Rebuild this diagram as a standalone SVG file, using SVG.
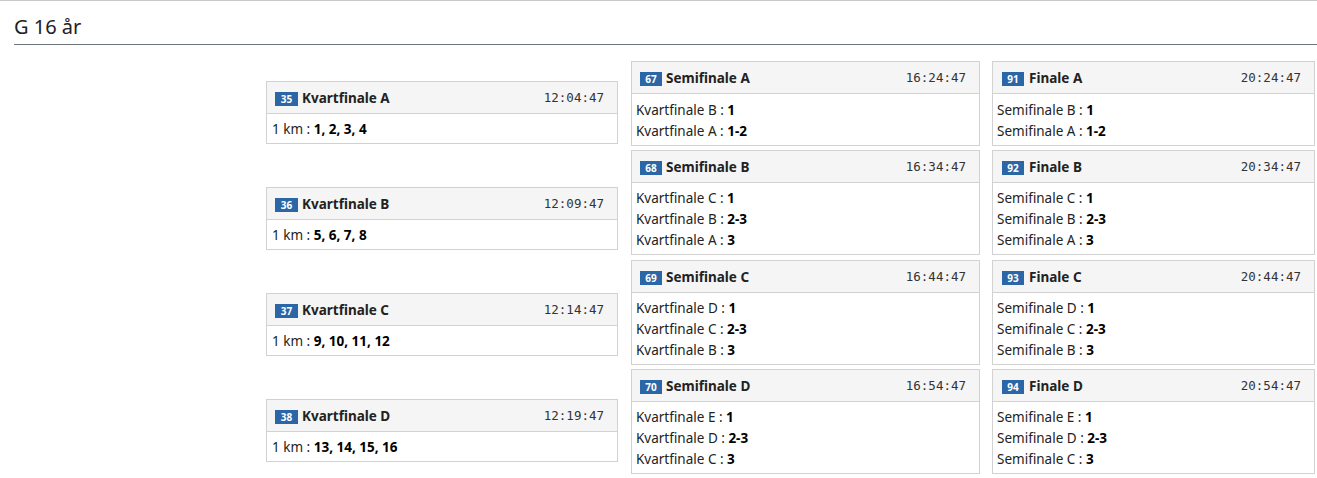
<svg xmlns="http://www.w3.org/2000/svg" width="1317" height="478" viewBox="0 0 1317 478">
<style>
.box{fill:#fff;stroke:#d2d2d2;stroke-width:1}
.hdr{fill:#f5f5f5;stroke:#d2d2d2;stroke-width:1}
.badge{fill:#2b67a6}
.bn{font-family:"Noto Sans","Open Sans",sans-serif;font-size:10px;font-weight:bold;fill:#fff;text-anchor:middle}
.tt{font-family:"Noto Sans","Open Sans",sans-serif;font-size:13.5px;font-weight:bold;fill:#222}
.tm{font-family:"DejaVu Sans Mono","Liberation Mono",monospace;font-size:12.5px;fill:#333;text-anchor:end}
.bd{font-family:"Noto Sans","Open Sans",sans-serif;font-size:13.5px;fill:#222}
.bd tspan{font-weight:bold;fill:#000}
.h{font-family:"Noto Sans","Open Sans",sans-serif;font-size:20px;fill:#222}
</style>
<rect x="0" y="0" width="1317" height="478" fill="#fff"/>
<line x1="0" y1="0.5" x2="1317" y2="0.5" stroke="#c8c8c8"/>
<text class="h" x="14" y="34">G 16 år</text>
<line x1="14" y1="44.5" x2="1317" y2="44.5" stroke="#6c757d"/>

<g id="q35">
<rect class="box" x="266.5" y="81.5" width="351" height="62"/>
<rect class="hdr" x="266.5" y="81.5" width="351" height="32"/>
<rect class="badge" x="275" y="92" width="23" height="14"/>
<text class="bn" x="286.5" y="102.5">35</text>
<text class="tt" x="302" y="102.5">Kvartfinale A</text>
<text class="tm" x="604" y="102">12:04:47</text>
<text class="bd" x="272" y="134">1 km : <tspan>1, 2, 3, 4</tspan></text>
</g>
<g id="q36">
<rect class="box" x="266.5" y="187.5" width="351" height="62"/>
<rect class="hdr" x="266.5" y="187.5" width="351" height="32"/>
<rect class="badge" x="275" y="198" width="23" height="14"/>
<text class="bn" x="286.5" y="208.5">36</text>
<text class="tt" x="302" y="208.5">Kvartfinale B</text>
<text class="tm" x="604" y="208">12:09:47</text>
<text class="bd" x="272" y="240">1 km : <tspan>5, 6, 7, 8</tspan></text>
</g>
<g id="q37">
<rect class="box" x="266.5" y="293.5" width="351" height="62"/>
<rect class="hdr" x="266.5" y="293.5" width="351" height="32"/>
<rect class="badge" x="275" y="304" width="23" height="14"/>
<text class="bn" x="286.5" y="314.5">37</text>
<text class="tt" x="302" y="314.5">Kvartfinale C</text>
<text class="tm" x="604" y="314">12:14:47</text>
<text class="bd" x="272" y="346">1 km : <tspan>9, 10, 11, 12</tspan></text>
</g>
<g id="q38">
<rect class="box" x="266.5" y="399.5" width="351" height="62"/>
<rect class="hdr" x="266.5" y="399.5" width="351" height="32"/>
<rect class="badge" x="275" y="410" width="23" height="14"/>
<text class="bn" x="286.5" y="420.5">38</text>
<text class="tt" x="302" y="420.5">Kvartfinale D</text>
<text class="tm" x="604" y="420">12:19:47</text>
<text class="bd" x="272" y="452">1 km : <tspan>13, 14, 15, 16</tspan></text>
</g>

<g id="s67">
<rect class="box" x="631.5" y="61.5" width="348" height="84"/>
<rect class="hdr" x="631.5" y="61.5" width="348" height="32"/>
<rect class="badge" x="640" y="72" width="22" height="14"/>
<text class="bn" x="651" y="82.5">67</text>
<text class="tt" x="666" y="82.5">Semifinale A</text>
<text class="tm" x="966" y="82">16:24:47</text>
<text class="bd" x="636" y="115">Kvartfinale B : <tspan>1</tspan></text>
<text class="bd" x="636" y="136">Kvartfinale A : <tspan>1-2</tspan></text>
</g>
<g id="s68">
<rect class="box" x="631.5" y="150.5" width="348" height="104"/>
<rect class="hdr" x="631.5" y="150.5" width="348" height="32"/>
<rect class="badge" x="640" y="161" width="22" height="14"/>
<text class="bn" x="651" y="171.5">68</text>
<text class="tt" x="666" y="171.5">Semifinale B</text>
<text class="tm" x="966" y="171">16:34:47</text>
<text class="bd" x="636" y="203">Kvartfinale C : <tspan>1</tspan></text>
<text class="bd" x="636" y="224">Kvartfinale B : <tspan>2-3</tspan></text>
<text class="bd" x="636" y="245">Kvartfinale A : <tspan>3</tspan></text>
</g>
<g id="s69">
<rect class="box" x="631.5" y="260.5" width="348" height="104"/>
<rect class="hdr" x="631.5" y="260.5" width="348" height="32"/>
<rect class="badge" x="640" y="271" width="22" height="14"/>
<text class="bn" x="651" y="281.5">69</text>
<text class="tt" x="666" y="281.5">Semifinale C</text>
<text class="tm" x="966" y="281">16:44:47</text>
<text class="bd" x="636" y="313">Kvartfinale D : <tspan>1</tspan></text>
<text class="bd" x="636" y="334">Kvartfinale C : <tspan>2-3</tspan></text>
<text class="bd" x="636" y="355">Kvartfinale B : <tspan>3</tspan></text>
</g>
<g id="s70">
<rect class="box" x="631.5" y="369.5" width="348" height="104"/>
<rect class="hdr" x="631.5" y="369.5" width="348" height="32"/>
<rect class="badge" x="640" y="380" width="22" height="14"/>
<text class="bn" x="651" y="390.5">70</text>
<text class="tt" x="666" y="390.5">Semifinale D</text>
<text class="tm" x="966" y="390">16:54:47</text>
<text class="bd" x="636" y="422">Kvartfinale E : <tspan>1</tspan></text>
<text class="bd" x="636" y="443">Kvartfinale D : <tspan>2-3</tspan></text>
<text class="bd" x="636" y="464">Kvartfinale C : <tspan>3</tspan></text>
</g>

<g id="f91">
<rect class="box" x="992.5" y="61.5" width="322" height="84"/>
<rect class="hdr" x="992.5" y="61.5" width="322" height="32"/>
<rect class="badge" x="1002" y="72" width="22" height="14"/>
<text class="bn" x="1013" y="82.5">91</text>
<text class="tt" x="1029" y="82.5">Finale A</text>
<text class="tm" x="1301" y="82">20:24:47</text>
<text class="bd" x="997" y="115">Semifinale B : <tspan>1</tspan></text>
<text class="bd" x="997" y="136">Semifinale A : <tspan>1-2</tspan></text>
</g>
<g id="f92">
<rect class="box" x="992.5" y="150.5" width="322" height="104"/>
<rect class="hdr" x="992.5" y="150.5" width="322" height="32"/>
<rect class="badge" x="1002" y="161" width="22" height="14"/>
<text class="bn" x="1013" y="171.5">92</text>
<text class="tt" x="1029" y="171.5">Finale B</text>
<text class="tm" x="1301" y="171">20:34:47</text>
<text class="bd" x="997" y="203">Semifinale C : <tspan>1</tspan></text>
<text class="bd" x="997" y="224">Semifinale B : <tspan>2-3</tspan></text>
<text class="bd" x="997" y="245">Semifinale A : <tspan>3</tspan></text>
</g>
<g id="f93">
<rect class="box" x="992.5" y="260.5" width="322" height="104"/>
<rect class="hdr" x="992.5" y="260.5" width="322" height="32"/>
<rect class="badge" x="1002" y="271" width="22" height="14"/>
<text class="bn" x="1013" y="281.5">93</text>
<text class="tt" x="1029" y="281.5">Finale C</text>
<text class="tm" x="1301" y="281">20:44:47</text>
<text class="bd" x="997" y="313">Semifinale D : <tspan>1</tspan></text>
<text class="bd" x="997" y="334">Semifinale C : <tspan>2-3</tspan></text>
<text class="bd" x="997" y="355">Semifinale B : <tspan>3</tspan></text>
</g>
<g id="f94">
<rect class="box" x="992.5" y="369.5" width="322" height="104"/>
<rect class="hdr" x="992.5" y="369.5" width="322" height="32"/>
<rect class="badge" x="1002" y="380" width="22" height="14"/>
<text class="bn" x="1013" y="390.5">94</text>
<text class="tt" x="1029" y="390.5">Finale D</text>
<text class="tm" x="1301" y="390">20:54:47</text>
<text class="bd" x="997" y="422">Semifinale E : <tspan>1</tspan></text>
<text class="bd" x="997" y="443">Semifinale D : <tspan>2-3</tspan></text>
<text class="bd" x="997" y="464">Semifinale C : <tspan>3</tspan></text>
</g>
<g id="connectors"/>
</svg>
